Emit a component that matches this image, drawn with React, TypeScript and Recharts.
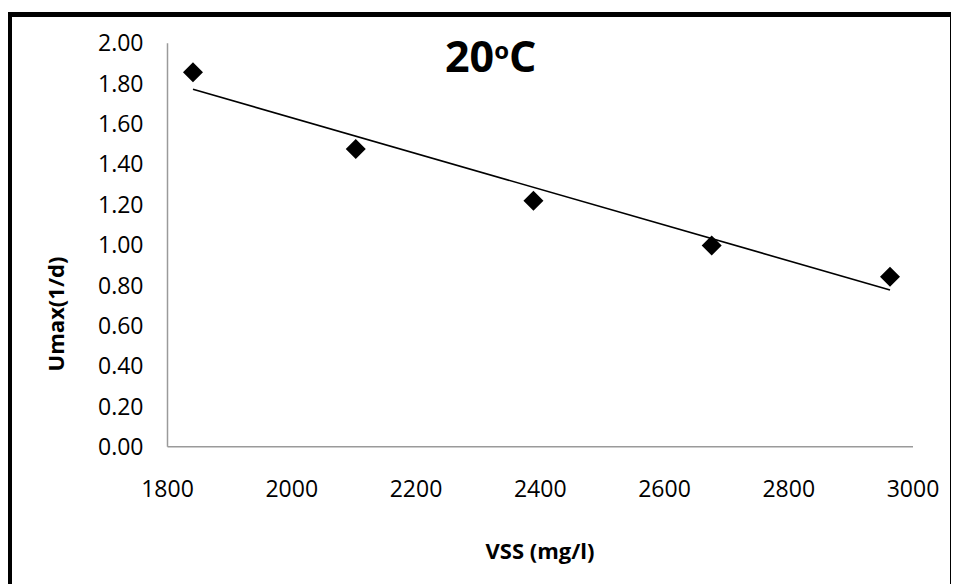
import { ScatterChart, Scatter, XAxis, YAxis, Label } from 'recharts';

const vss = [1841, 2103, 2389, 2676, 2963];
const umax = [1.856, 1.476, 1.22, 0.997, 0.843];

// linear trendline ends as drawn in the reference
const trendVss = [1841, 2963];
const trendUmax = [1.772, 0.777];

const xTicks = [1800, 2000, 2200, 2400, 2600, 2800, 3000];
const yTicks = [0, 0.2, 0.4, 0.6, 0.8, 1.0, 1.2, 1.4, 1.6, 1.8, 2.0];

const points = vss.map((x, i) => ({ x, y: umax[i] }));
const trend = trendVss.map((x, i) => ({ x, y: trendUmax[i] }));

const font = '"Open Sans", sans-serif';

const Diamond = ({ cx, cy }: any) => {
  const r = 10;
  return (
    <polygon
      points={`${cx},${cy - r} ${cx + r},${cy} ${cx},${cy + r} ${cx - r},${cy}`}
      fill="#000"
    />
  );
};

export default function App() {
  return (
    <div style={{ position: 'relative', width: 943, height: 576, overflow: 'hidden', fontFamily: font }}>
      {/* thick frame round the chart, bottom edge runs off the picture */}
      <div
        style={{
          position: 'absolute',
          left: -1,
          top: 4,
          width: 938,
          height: 620,
          borderTop: '5px solid #000',
          borderLeft: '5px solid #000',
          borderRight: '5px solid #000',
        }}
      />
      <div
        style={{
          position: 'absolute',
          left: 437,
          top: 26,
          fontSize: 43,
          fontWeight: 700,
          lineHeight: 1,
          color: '#000',
          whiteSpace: 'nowrap',
        }}
      >
        20<span style={{ fontSize: 24, verticalAlign: 'top', position: 'relative', top: 4 }}>o</span>C
      </div>
      <ScatterChart
        width={943}
        height={560}
        margin={{ top: 35.3, right: 38, left: 0, bottom: 61.3 }}
        style={{ position: 'absolute', left: 0, top: 0 }}
      >
        <XAxis
          type="number"
          dataKey="x"
          domain={[1800, 3000]}
          ticks={xTicks}
          height={60}
          tickLine={false}
          tickSize={0}
          tickMargin={34}
          axisLine={{ stroke: '#9a9a9a', strokeWidth: 1.5 }}
          tick={{ fill: '#000', fontSize: 23, fontFamily: font }}
          allowDataOverflow
        >
          <Label
            content={() => (
              <text x={532} y={542} textAnchor="middle" dominantBaseline="central" fontSize={22} fontWeight={700} fontFamily={font} fill="#000">
                VSS (mg/l)
              </text>
            )}
          />
        </XAxis>
        <YAxis
          type="number"
          dataKey="y"
          domain={[0, 2]}
          ticks={yTicks}
          width={159.5}
          tickLine={false}
          tickSize={0}
          tickMargin={24}
          axisLine={{ stroke: '#9a9a9a', strokeWidth: 1.5 }}
          tick={{ fill: '#000', fontSize: 23, fontFamily: font }}
          tickFormatter={(v: number) => v.toFixed(2)}
        >
          <Label
            content={() => (
              <text
                x={47}
                y={306}
                transform="rotate(-90, 47, 306)"
                textAnchor="middle"
                dominantBaseline="central"
                fontSize={22}
                fontWeight={700}
                fontFamily={font}
                fill="#000"
              >
                Umax(1/d)
              </text>
            )}
          />
        </YAxis>
        <Scatter
          data={trend}
          line={{ stroke: '#000', strokeWidth: 1.6 }}
          shape={() => <g />}
          isAnimationActive={false}
        />
        <Scatter data={points} shape={<Diamond />} isAnimationActive={false} />
      </ScatterChart>
    </div>
  );
}
